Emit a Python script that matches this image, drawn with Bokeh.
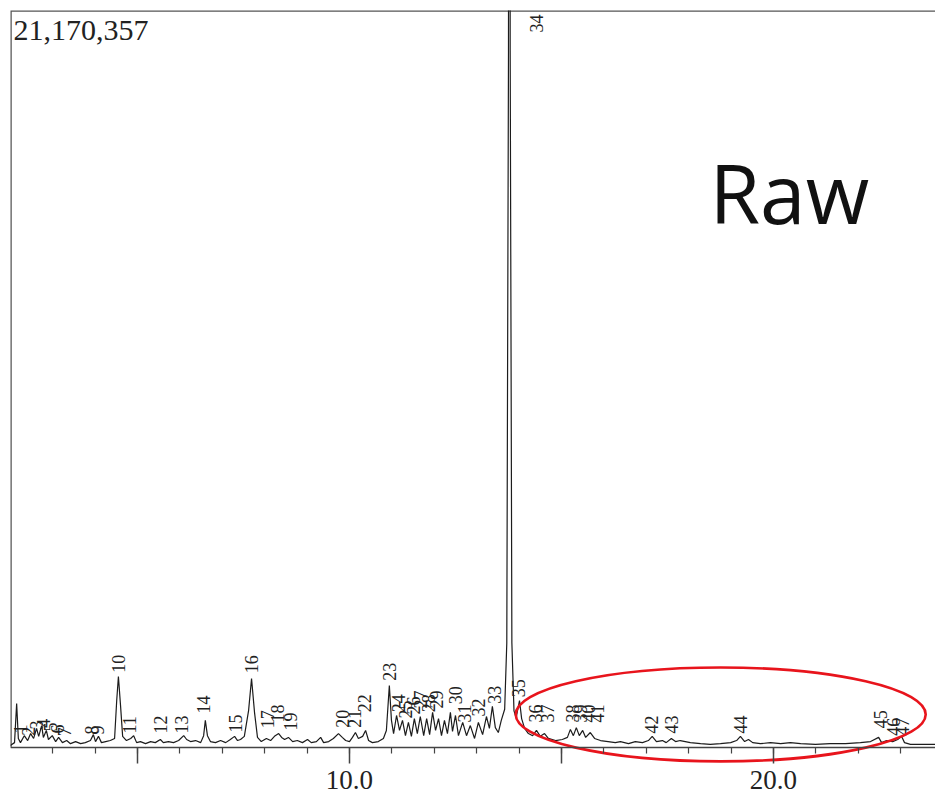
import math
from bokeh.plotting import figure
from bokeh.models import LinearAxis, FixedTicker, Label, ColumnDataSource, Range1d, NumeralTickFormatter
from bokeh.embed import file_html
from bokeh.resources import INLINE
from bokeh.core.properties import value

# ---- chromatogram trace (retention time in min, intensity in millions of counts)
rt = [2.00, 2.10, 2.15, 2.19, 2.24, 2.33, 2.41, 2.48, 2.55, 2.62, 2.67, 2.74, 2.78, 2.85, 2.90,
      2.99, 3.07, 3.14, 3.23, 3.33, 3.42, 3.54, 3.66, 3.77, 3.89, 3.96, 4.01, 4.08, 4.15, 4.25,
      4.36, 4.46, 4.51, 4.55, 4.60, 4.65, 4.74, 4.84, 4.91, 4.98, 5.07, 5.19, 5.31, 5.42, 5.54,
      5.61, 5.73, 5.85, 5.97, 6.09, 6.16, 6.25, 6.37, 6.49, 6.56, 6.60, 6.65, 6.72, 6.84, 6.96,
      7.08, 7.19, 7.29, 7.36, 7.43, 7.52, 7.62, 7.69, 7.76, 7.83, 7.92, 8.04, 8.14, 8.23, 8.33,
      8.40, 8.47, 8.56, 8.66, 8.77, 8.89, 9.01, 9.10, 9.22, 9.32, 9.39, 9.51, 9.62, 9.74, 9.83,
      9.91, 10.00, 10.07, 10.14, 10.21, 10.31, 10.38, 10.45, 10.54, 10.68, 10.80, 10.87, 10.94, 10.99, 11.04,
      11.11, 11.18, 11.25, 11.32, 11.39, 11.46, 11.53, 11.60, 11.67, 11.75, 11.82, 11.89, 11.96, 12.03, 12.10,
      12.17, 12.24, 12.31, 12.38, 12.43, 12.50, 12.57, 12.67, 12.76, 12.85, 12.95, 13.04, 13.14, 13.23, 13.30,
      13.37, 13.44, 13.51, 13.58, 13.66, 13.71, 13.75, 13.77, 13.79, 13.83, 13.88, 13.93, 14.01, 14.06, 14.13,
      14.22, 14.32, 14.41, 14.50,
      14.60, 14.69, 14.86, 15.02, 15.14, 15.21, 15.28, 15.35, 15.42, 15.50, 15.57, 15.68, 15.78, 15.92, 16.10,
      16.27, 16.39, 16.58, 16.74, 16.91, 17.05, 17.14, 17.24, 17.38, 17.47, 17.59, 17.69, 17.80, 18.04, 18.28,
      18.51, 18.75, 18.99, 19.13, 19.22, 19.32, 19.41, 19.51, 19.69, 19.93, 20.17, 20.40, 20.64, 20.99, 21.34,
      21.70, 22.05, 22.29, 22.48, 22.55, 22.67, 22.81, 22.93, 23.02, 23.09, 23.23, 23.47, 23.71, 23.85]
intensity = [0.06, 0.14, 1.26, 0.26, 0.14, 0.34, 0.20, 0.40, 0.26, 0.55, 0.32, 0.63, 0.29, 0.49, 0.23,
             0.34, 0.17, 0.29, 0.14, 0.20, 0.11, 0.17, 0.11, 0.14, 0.20, 0.37, 0.17, 0.32, 0.14, 0.17,
             0.20, 0.26, 1.35, 2.04, 1.21, 0.32, 0.20, 0.26, 0.34, 0.14, 0.17, 0.11, 0.17, 0.14, 0.23,
             0.14, 0.17, 0.14, 0.20, 0.34, 0.23, 0.17, 0.20, 0.14, 0.34, 0.78, 0.34, 0.17, 0.14, 0.20,
             0.14, 0.23, 0.32, 0.20, 0.23, 0.32, 1.06, 1.98, 1.01, 0.29, 0.17, 0.26, 0.20, 0.32, 0.40,
             0.29, 0.23, 0.29, 0.17, 0.20, 0.14, 0.23, 0.14, 0.17, 0.29, 0.14, 0.17, 0.26, 0.40, 0.29,
             0.20, 0.17, 0.29, 0.43, 0.26, 0.32, 0.49, 0.20, 0.14, 0.17, 0.26, 0.49, 1.78, 0.78, 0.40,
             0.92, 0.49, 0.78, 0.34, 0.72, 0.32, 0.83, 0.40, 0.89, 0.34, 0.83, 0.37, 1.01, 0.49, 0.83,
             0.34, 0.78, 0.40, 1.01, 0.46, 0.92, 0.34, 0.72, 0.34, 0.63, 0.26, 0.72, 0.37, 0.89, 0.55,
             1.18, 0.57, 0.43, 0.78, 1.10, 3.0, 20.0, 60.0, 20.0, 3.0, 1.05, 0.85, 1.35, 0.83, 0.55,
             0.40, 0.34, 0.49, 0.32,
             0.40, 0.26, 0.20, 0.23, 0.29, 0.52, 0.34, 0.57, 0.34, 0.49, 0.29, 0.43, 0.26, 0.20, 0.17,
             0.14, 0.17, 0.11, 0.17, 0.14, 0.20, 0.32, 0.17, 0.20, 0.14, 0.26, 0.17, 0.20, 0.14, 0.11,
             0.09, 0.11, 0.14, 0.20, 0.32, 0.17, 0.23, 0.14, 0.11, 0.14, 0.11, 0.14, 0.11, 0.09, 0.11,
             0.11, 0.14, 0.17, 0.29, 0.14, 0.20, 0.17, 0.23, 0.32, 0.14, 0.09, 0.09, 0.09, 0.09]

# ---- peak annotations (peak number, retention time, label base intensity)
peak_ids = [str(i) for i in range(1, 48)]
peak_rt = [2.24, 2.43, 2.62, 2.78, 2.95, 3.11, 3.28, 3.92, 4.06, 4.55,
           4.81, 5.54, 6.04, 6.56, 7.31, 7.69, 8.07, 8.30, 8.61, 9.83,
           10.12, 10.35, 10.94, 11.16, 11.32, 11.51, 11.67, 11.86, 12.05, 12.50,
           12.71, 13.04, 13.42, 14.41, 13.99, 14.39, 14.67, 15.26, 15.45, 15.64,
           15.85, 17.12, 17.59, 19.22, 22.52, 22.83, 23.04]
peak_label_base = [0.40, 0.34, 0.52, 0.57, 0.46, 0.40, 0.32, 0.37, 0.37, 2.15,
                   0.40, 0.40, 0.40, 0.98, 0.43, 2.13, 0.55, 0.72, 0.49, 0.57,
                   0.57, 1.01, 1.92, 1.01, 0.83, 0.95, 1.12, 1.01, 1.12, 1.24,
                   0.72, 0.89, 1.26, 20.54, 1.44, 0.72, 0.72, 0.72, 0.72, 0.72,
                   0.72, 0.40, 0.40, 0.40, 0.55, 0.34, 0.34]

y_max = 21170357           # full-scale intensity shown at top-left
x_major = [5, 10, 15, 20]
x_minor = list(range(2, 24))
x_hidden_labels = {5: "", 15: ""}
highlight_rt = (13.92, 23.59)      # red ellipse extent (min)
highlight_int = (-0.40, 2.30)      # red ellipse extent (M counts)

W, H = 935, 799
x_start = 2.005
x_end = x_start + (W - 10) * 10.0 / 424.0
y_top = y_max / 1e6
y_bottom = y_top - (H - 10) * y_top / 737.0

p = figure(width=W, height=H, output_backend="svg", toolbar_location=None,
           x_range=Range1d(x_start, x_end), y_range=Range1d(y_bottom, y_top),
           x_axis_location=None, y_axis_location=None,
           min_border_left=10, min_border_right=0, min_border_top=10, min_border_bottom=0)
p.outline_line_color = None
p.grid.visible = False
p.background_fill_color = "white"
p.border_fill_color = "white"

# frame border (left + top)
p.line(x=[x_start, x_start, x_end], y=[0, y_top, y_top], line_color="#555555", line_width=2.5)

# trace
p.line(x=rt, y=intensity, line_color="#1c1c1c", line_width=1.2)

# peak labels
src = ColumnDataSource(dict(x=peak_rt, y=peak_label_base, t=peak_ids))
p.text(x="x", y="y", text="t", source=src, angle=math.pi / 2, text_align="left",
       text_baseline="middle", text_font=value("Liberation Serif"), text_font_size="18px",
       text_color="#222222")

# red ellipse
p.ellipse(x=[(highlight_rt[0] + highlight_rt[1]) / 2], y=[(highlight_int[0] + highlight_int[1]) / 2],
          width=[highlight_rt[1] - highlight_rt[0]], height=[highlight_int[1] - highlight_int[0]],
          fill_color=None, line_color="#e8141c", line_width=2.6)

# x axis at intensity 0
xaxis = LinearAxis(fixed_location=0,
                   ticker=FixedTicker(ticks=x_major, minor_ticks=x_minor),
                   formatter=NumeralTickFormatter(format="0.0"),
                   major_label_overrides=x_hidden_labels)
xaxis.axis_line_color = "#444444"
xaxis.axis_line_width = 1.5
xaxis.major_tick_line_color = "#444444"
xaxis.minor_tick_line_color = "#444444"
xaxis.major_tick_line_width = 1.5
xaxis.minor_tick_line_width = 1.2
xaxis.major_tick_in = 0
xaxis.major_tick_out = 16
xaxis.minor_tick_in = 0
xaxis.minor_tick_out = 6
xaxis.major_label_standoff = 7
xaxis.major_label_text_font = "Liberation Serif"
xaxis.major_label_text_font_size = "27px"
xaxis.major_label_text_color = "#222222"
p.add_layout(xaxis, "below")

p.add_layout(Label(x=3, y=769, x_units="screen", y_units="screen", text=f"{y_max:,}",
                   text_font="Liberation Serif", text_font_size="30px", text_color="#222222",
                   text_baseline="alphabetic"))
p.add_layout(Label(x=699, y=608, x_units="screen", y_units="screen", text="Raw",
                   text_font="Open Sans", text_font_size="82px", text_color="#111111",
                   text_baseline="alphabetic"))

open("out.html", "w").write(file_html(p, INLINE))
